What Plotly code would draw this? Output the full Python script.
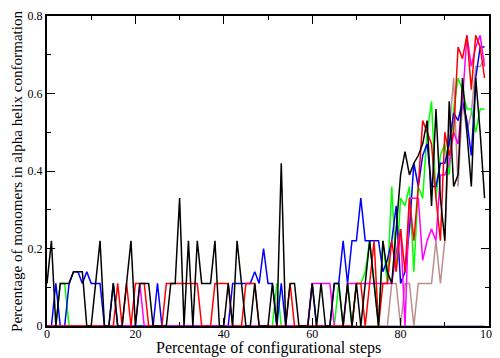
import plotly.graph_objects as go

steps = list(range(100))

black = [0.11,0.22,0,0.11,0.11,0.11,0.14,0.14,0.14,0,0,0.11,0.22,0,0,0.11,0,0,0.11,0.22,
         0,0.11,0.11,0.11,0,0,0,0,0.11,0.11,0.33,0,0.22,0,0.22,0.11,0.11,0.11,0.22,0,
         0,0.11,0,0.22,0.11,0,0,0.11,0,0,0,0.11,0,0.42,0,0.11,0.11,0,0,0,
         0.11,0,0.11,0,0,0.11,0.11,0,0.11,0,0.11,0,0.11,0.22,0.11,0,0.22,0.14,0.11,0.25,
         0.39,0.45,0.39,0.42,0.44,0.47,0.53,0.31,0.56,0.33,0.22,0.58,0.36,0.39,0.64,0.5,0.36,0.64,0.5,0.33]

red = [0,0,0,0,0,0,0,0,0,0,0,0,0,0,0,0,0.11,0,0.11,0,
       0.11,0.11,0.11,0,0,0,0,0.11,0.11,0.11,0.11,0.11,0.11,0.11,0.11,0,0,0,0.11,0.11,
       0.11,0.11,0,0,0,0.11,0.11,0.11,0,0,0,0,0,0,0,0.11,0,0,0,0,
       0,0,0,0,0,0,0,0,0,0,0.11,0.11,0,0.11,0.22,0,0.11,0.11,0.22,0.14,
       0.25,0.14,0.33,0.22,0.36,0.53,0.5,0.47,0.33,0.22,0.5,0.44,0.5,0.72,0.69,0.75,0.61,0.75,0.72,0.64]

green = [0,0,0,0.11,0.11,0,0,0,0,0,0,0,0,0,0,0,0,0,0,0,
         0,0,0,0,0,0,0,0,0,0,0,0,0,0,0,0,0,0,0,0,
         0,0,0,0,0,0,0,0,0,0,0,0,0.11,0,0,0,0,0,0,0,
         0,0,0,0,0,0,0.11,0,0.11,0,0.11,0.11,0.14,0.22,0.11,0,0.22,0.11,0.36,0.14,
         0.33,0.31,0.36,0.14,0.36,0.33,0.5,0.58,0.33,0.44,0.47,0.39,0.56,0.64,0.61,0.56,0.56,0.5,0.56,0.56]

blue = [0,0,0.11,0,0,0.11,0.14,0.14,0.11,0.14,0.11,0.11,0.11,0,0,0.11,0,0,0,0,
        0,0,0,0,0,0.11,0,0,0,0,0,0,0,0,0,0,0,0,0,0,
        0,0,0.11,0.11,0.11,0.11,0.11,0.14,0.11,0.2,0.11,0.11,0,0.11,0,0,0,0,0,0,
        0.11,0,0,0,0,0.11,0.11,0.22,0.11,0.22,0.22,0.33,0.22,0.22,0.22,0.22,0.14,0.17,0.22,0.31,
        0.11,0.14,0.25,0.42,0.36,0.44,0.47,0.36,0.36,0.42,0.42,0.47,0.55,0.53,0.58,0.53,0.44,0.64,0.72,0.72]

magenta = [0,0,0,0,0,0,0,0,0,0,0,0,0,0,0,0,0,0,0,0,
           0,0.11,0,0,0,0,0,0,0,0,0,0,0,0,0,0,0,0,0,0,
           0,0,0,0,0,0,0,0,0,0,0,0,0,0,0,0,0,0,0,0,
           0.11,0.11,0.11,0.11,0.11,0,0,0,0.11,0.11,0.11,0.11,0.11,0.11,0.11,0.11,0.11,0.11,0.11,0.19,
           0.25,0,0.33,0.33,0.33,0.17,0.22,0.25,0.22,0.39,0.39,0.42,0.5,0.47,0.58,0.75,0.67,0.72,0.75,0.67]

brown = [0]*78 + [0.11,0.11,
         0,0.11,0.11,0,0.11,0.11,0.11,0.11,0.22,0.11,0.22,0.5,0.64,0.36,0.58,0.5,0.55,0.67,0.67,0.69]

violet = [0]*100

series = [
    ("violet", violet, "#9a8fd6"),
    ("brown", brown, "#bc8f8f"),
    ("green", green, "#00ff00"),
    ("blue", blue, "#0000ff"),
    ("magenta", magenta, "#ff00ff"),
    ("red", red, "#ff0000"),
    ("black", black, "#000000"),
]

x_title = "Percentage of configurational steps"
y_title = "Percentage of monomers in alpha helix conformation"

fig = go.Figure()
for name, vals, col in series:
    fig.add_trace(go.Scatter(x=steps, y=vals, mode="lines", name=name,
                             line=dict(color=col, width=1.5)))

font = "Liberation Serif, Times New Roman, serif"
axis_common = dict(
    showgrid=False, zeroline=False, showline=True, linecolor="black", linewidth=2,
    mirror="allticks", ticks="inside", ticklen=8, tickwidth=1, tickcolor="black",
    tickfont=dict(family=font, size=12, color="black"), automargin=False,
)
fig.update_layout(
    width=492, height=350,
    margin=dict(l=39, r=11, t=8, b=32),
    paper_bgcolor="white", plot_bgcolor="white",
    showlegend=False,
    font=dict(family=font, color="black"),
    xaxis=dict(range=[0, 100], dtick=20, tick0=0, ticklabelstandoff=-4,
               minor=dict(dtick=10, ticks="inside", ticklen=4, tickcolor="black"),
               **axis_common),
    yaxis=dict(range=[0, 0.8], dtick=0.2, tick0=0,
               minor=dict(dtick=0.1, ticks="inside", ticklen=4, tickcolor="black"),
               **axis_common),
    annotations=[
        dict(text=x_title, xref="paper", yref="paper", x=0.5, y=0,
             xanchor="center", yanchor="middle", yshift=-22, showarrow=False,
             font=dict(family=font, size=16, color="black")),
        dict(text=y_title, xref="paper", yref="paper", x=0, y=0.5, textangle=-90,
             xanchor="center", yanchor="middle", xshift=-30, showarrow=False,
             font=dict(family=font, size=15.1, color="black")),
    ],
)
fig.write_html("out.html")
